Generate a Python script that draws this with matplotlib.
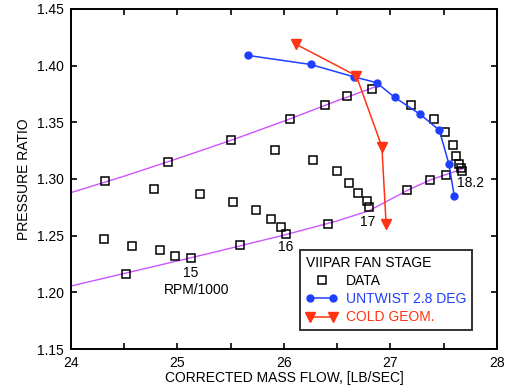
import matplotlib.pyplot as plt
from matplotlib.ticker import MultipleLocator
from matplotlib.legend_handler import HandlerLine2D

plt.rcParams['font.family'] = ['Liberation Sans', 'DejaVu Sans']

# Datos medidos (cuadrados)
data_flow = [24.32, 24.91, 25.50, 26.06, 26.39, 26.59, 26.83,
             24.78, 25.21, 25.52, 25.74, 25.88, 25.97, 26.02,
             24.31, 24.57, 24.84, 24.98, 25.13, 24.52, 25.59, 26.41,
             25.92, 26.27, 26.50, 26.61, 26.70, 26.78, 26.80,
             27.16, 27.37, 27.52, 27.67, 27.66, 27.64, 27.62, 27.59, 27.51, 27.41, 27.19]
data_pr = [1.298, 1.315, 1.334, 1.353, 1.365, 1.3735, 1.3794,
           1.291, 1.2865, 1.2794, 1.2729, 1.265, 1.2579, 1.2512,
           1.2467, 1.2408, 1.2376, 1.2323, 1.230, 1.2161, 1.2414, 1.2605,
           1.3253, 1.3167, 1.307, 1.2967, 1.288, 1.2808, 1.2755,
           1.290, 1.2988, 1.3037, 1.3073, 1.310, 1.3132, 1.3203, 1.3297, 1.3414, 1.3532, 1.3653]

# Untwist 2.8 deg
untwist_flow = [25.66, 26.25, 26.66, 26.87, 27.04, 27.28, 27.46, 27.55, 27.60]
untwist_pr = [1.409, 1.401, 1.390, 1.385, 1.372, 1.357, 1.343, 1.313, 1.285]

# Cold geometry
cold_flow = [26.11, 26.68, 26.92, 26.96]
cold_pr = [1.419, 1.391, 1.3285, 1.260]

# Lineas (stall y operacion)
stall_flow = [24.0, 24.5, 25.0, 25.5, 26.0, 26.5, 26.85]
stall_pr = [1.288, 1.3025, 1.318, 1.334, 1.351, 1.369, 1.381]
oper_flow = [24.0, 25.3, 26.0, 26.5, 26.8, 27.16, 27.37, 27.68]
oper_pr = [1.2056, 1.2344, 1.2505, 1.263, 1.272, 1.290, 1.299, 1.309]

# Etiquetas de velocidad
speed_labels = ['15', 'RPM/1000', '16', '17', '18.2']
speed_x = [25.12, 25.18, 26.02, 26.79, 27.75]
speed_y = [1.2173, 1.202, 1.240, 1.2623, 1.2962]

blue = '#1f3fff'
red = '#ff3311'
violet = '#cc55ff'

fig = plt.figure(figsize=(5.07, 3.87), dpi=100)
ax = fig.add_axes([0.140, 0.098, 0.840, 0.879])

ax.plot(stall_flow, stall_pr, color=violet, lw=1.0, zorder=1)
ax.plot(oper_flow, oper_pr, color=violet, lw=1.0, zorder=1)

data_line, = ax.plot(data_flow, data_pr, ls='none', marker='s', ms=5.5, mfc='none',
                     mec='black', mew=1.1, label='DATA', zorder=3)
ax.plot(untwist_flow, untwist_pr, color=blue, lw=1.1, marker='o', ms=5,
        label='UNTWIST 2.8 DEG', zorder=4)
ax.plot(cold_flow, cold_pr, color=red, lw=1.1, marker='v', ms=6.5,
        label='COLD GEOM.', zorder=4)

for lab, x, y in zip(speed_labels, speed_x, speed_y):
    ax.text(x, y, lab, fontsize=10, ha='center', va='center')

ax.set_xlim(24, 28)
ax.set_ylim(1.15, 1.45)
ax.xaxis.set_major_locator(MultipleLocator(1))
ax.xaxis.set_minor_locator(MultipleLocator(0.5))
ax.yaxis.set_major_locator(MultipleLocator(0.05))
ax.yaxis.set_major_formatter(plt.FormatStrFormatter('%.2f'))
ax.tick_params(which='both', direction='in', top=True, right=True,
               length=4, width=1.2, labelsize=10)
ax.tick_params(axis='x', pad=5)
ax.tick_params(axis='y', pad=5)
for s in ax.spines.values():
    s.set_linewidth(1.4)

ax.set_xlabel('CORRECTED MASS FLOW, [LB/SEC]', fontsize=10, labelpad=1)
ax.set_ylabel('PRESSURE RATIO', fontsize=10, labelpad=4)

leg = ax.legend(title='VIIPAR FAN STAGE', loc='lower left',
                bbox_to_anchor=(0.538, 0.056), frameon=True, fancybox=False,
                edgecolor='black', fontsize=10, title_fontsize=10,
                handlelength=2.3, handletextpad=0.6, borderpad=0.4,
                labelspacing=0.3, alignment='left', borderaxespad=0,
                numpoints=2, handler_map={data_line: HandlerLine2D(numpoints=1)})
leg.get_frame().set_linewidth(1.4)
for t, c in zip(leg.get_texts(), ['black', blue, red]):
    t.set_color(c)

plt.savefig('out.png', dpi=100)
